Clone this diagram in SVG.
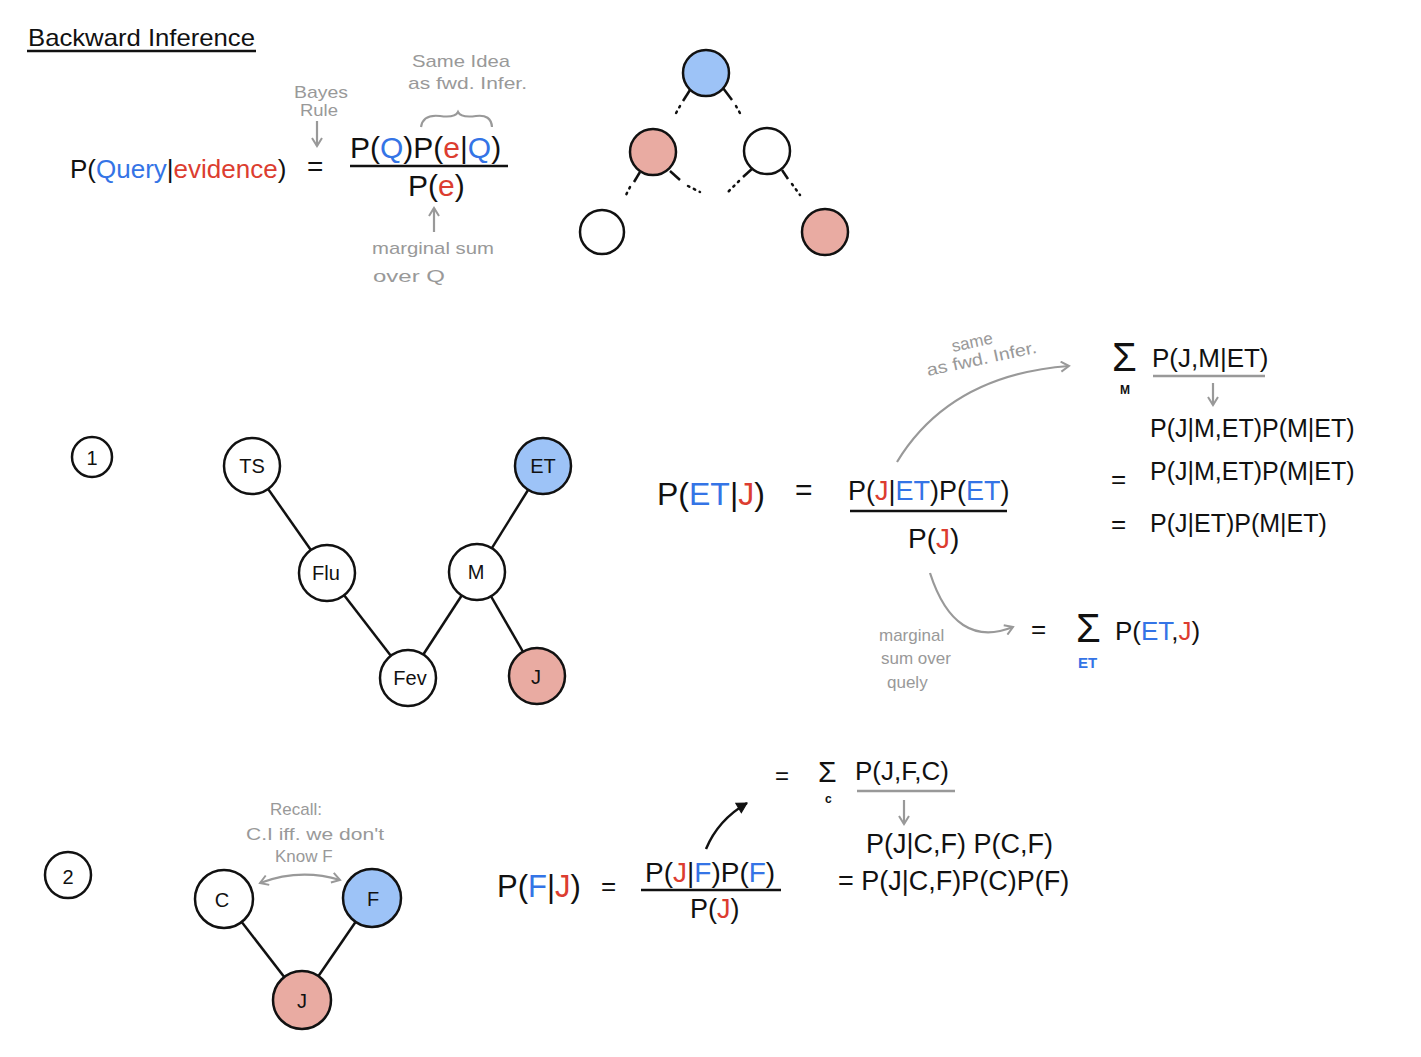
<svg xmlns="http://www.w3.org/2000/svg" width="1421" height="1057" viewBox="0 0 1421 1057">
<style>
text{font-family:"Liberation Sans","DejaVu Sans",sans-serif;fill:#111}
.b{fill:#3474e6}
.r{fill:#dc3d30}
.g{fill:#999;font-size:17px}
.nd{stroke:#111;stroke-width:2.5}
.wh{fill:#fff}
.bl{fill:#9dc3f7}
.rd{fill:#e9aba2}
.lbl{font-size:20px;text-anchor:middle}
.edge{stroke:#111;stroke-width:2.5;fill:none}
.dots{stroke:#111;stroke-width:2.5;stroke-dasharray:1.5 5;stroke-linecap:round;fill:none}
.garr{stroke:#999;stroke-width:2.2;fill:none}
.kline{stroke:#111;stroke-width:2.5}
.gline{stroke:#999;stroke-width:2.5}
</style>
<defs>
<marker id="ga" viewBox="0 0 12 12" refX="10" refY="6" markerWidth="12" markerHeight="12" markerUnits="userSpaceOnUse" orient="auto-start-reverse">
<path d="M2,1 L10,6 L2,11" fill="none" stroke="#999" stroke-width="2"/>
</marker>
<marker id="ka" viewBox="0 0 12 12" refX="10" refY="6" markerWidth="13" markerHeight="13" markerUnits="userSpaceOnUse" orient="auto">
<path d="M1,1 L10,6 L1,11 Z" fill="#111" stroke="#111" stroke-width="1"/>
</marker>
</defs>
<rect width="1421" height="1057" fill="#fff"/>

<!-- Title -->
<text x="28" y="46" font-size="24" textLength="227" lengthAdjust="spacingAndGlyphs">Backward Inference</text>
<line x1="27" y1="51" x2="256" y2="51" class="kline"/>

<!-- Top formula -->
<g id="top-formula">
<text x="70" y="178" font-size="26">P(<tspan class="b">Query</tspan>|<tspan class="r">evidence</tspan>)</text>
<text x="307" y="176" font-size="28">=</text>
<text x="350" y="158" font-size="30">P(<tspan class="b">Q</tspan>)P(<tspan class="r">e</tspan>|<tspan class="b">Q</tspan>)</text>
<line x1="350" y1="166" x2="508" y2="166" class="kline"/>
<text x="408" y="196" font-size="30">P(<tspan class="r">e</tspan>)</text>
<text x="294" y="98" class="g" textLength="54" lengthAdjust="spacingAndGlyphs">Bayes</text>
<text x="300" y="116" class="g" textLength="38" lengthAdjust="spacingAndGlyphs">Rule</text>
<line x1="317" y1="121" x2="317" y2="146" class="garr" marker-end="url(#ga)"/>
<text x="412" y="67" class="g" textLength="98" lengthAdjust="spacingAndGlyphs">Same Idea</text>
<text x="408" y="89" class="g" textLength="119" lengthAdjust="spacingAndGlyphs">as fwd. Infer.</text>
<path d="M421,127 Q423,114 440,116 Q455,118 458,112 Q461,118 476,116 Q491,114 492,127" class="garr"/>
<line x1="434" y1="232" x2="434" y2="208" class="garr" marker-end="url(#ga)"/>
<text x="372" y="254" class="g" textLength="122" lengthAdjust="spacingAndGlyphs">marginal sum</text>
<text x="373" y="282" class="g" textLength="72" lengthAdjust="spacingAndGlyphs">over  Q</text>
</g>

<!-- Top tree -->
<g id="top-tree-connectors">
<line x1="690" y1="90" x2="683" y2="101" class="edge"/>
<line x1="680" y1="106" x2="675" y2="115" class="dots"/>
<line x1="723" y1="88" x2="732" y2="100" class="edge"/>
<line x1="736" y1="106" x2="741" y2="115" class="dots"/>
<line x1="640" y1="172" x2="634" y2="182" class="edge"/>
<line x1="630" y1="187" x2="625" y2="197" class="dots"/>
<line x1="670" y1="171" x2="680" y2="180" class="edge"/>
<line x1="688" y1="186" x2="700" y2="192" class="dots"/>
<line x1="753" y1="168" x2="743" y2="177" class="edge"/>
<line x1="739" y1="181" x2="728" y2="192" class="dots"/>
<line x1="782" y1="170" x2="788" y2="179" class="edge"/>
<line x1="792" y1="184" x2="800" y2="195" class="dots"/>
</g>
<g id="tt-root"><circle cx="706" cy="73" r="23" class="nd bl"/></g>
<g id="tt-left"><circle cx="653" cy="152" r="23" class="nd rd"/></g>
<g id="tt-right"><circle cx="767" cy="151" r="23" class="nd wh"/></g>
<g id="tt-ll"><circle cx="602" cy="232" r="22" class="nd wh"/></g>
<g id="tt-rr"><circle cx="825" cy="232" r="23" class="nd rd"/></g>

<!-- Section 1 -->
<g id="num1"><circle cx="92" cy="457" r="20" class="nd wh"/><text x="92" y="465" class="lbl">1</text></g>
<g id="net1-connectors">
<line x1="252" y1="466" x2="327" y2="573" class="edge"/>
<line x1="327" y1="573" x2="408" y2="678" class="edge"/>
<line x1="408" y1="678" x2="477" y2="572" class="edge"/>
<line x1="477" y1="572" x2="543" y2="466" class="edge"/>
<line x1="477" y1="572" x2="537" y2="676" class="edge"/>
</g>
<g id="n-TS"><circle cx="252" cy="466" r="28" class="nd wh"/><text x="252" y="473" class="lbl">TS</text></g>
<g id="n-ET"><circle cx="543" cy="466" r="28" class="nd bl"/><text x="543" y="473" class="lbl">ET</text></g>
<g id="n-Flu"><circle cx="327" cy="573" r="28" class="nd wh"/><text x="326" y="580" class="lbl">Flu</text></g>
<g id="n-M"><circle cx="477" cy="572" r="28" class="nd wh"/><text x="476" y="579" class="lbl">M</text></g>
<g id="n-Fev"><circle cx="408" cy="678" r="28" class="nd wh"/><text x="410" y="685" class="lbl">Fev</text></g>
<g id="n-J"><circle cx="537" cy="676" r="28" class="nd rd"/><text x="536" y="684" class="lbl">J</text></g>

<g id="formula1">
<text x="657" y="505" font-size="32">P(<tspan class="b">ET</tspan>|<tspan class="r">J</tspan>)</text>
<text x="795" y="500" font-size="30">=</text>
<text x="848" y="500" font-size="27">P(<tspan class="r">J</tspan>|<tspan class="b">ET</tspan>)P(<tspan class="b">ET</tspan>)</text>
<line x1="850" y1="511" x2="1007" y2="511" class="kline"/>
<text x="908" y="548" font-size="28">P(<tspan class="r">J</tspan>)</text>
<text x="1112" y="371" font-size="40">Σ</text>
<text x="1120" y="394" font-size="12" font-weight="bold">M</text>
<text x="1152" y="367" font-size="26">P(J,M|ET)</text>
<line x1="1153" y1="376" x2="1265" y2="376" class="gline"/>
<line x1="1213" y1="383" x2="1213" y2="405" class="garr" marker-end="url(#ga)"/>
<text x="1150" y="437" font-size="25">P(J|M,ET)P(M|ET)</text>
<text x="1111" y="488" font-size="26">=</text>
<text x="1150" y="480" font-size="25">P(J|M,ET)P(M|ET)</text>
<text x="1111" y="533" font-size="26">=</text>
<text x="1150" y="532" font-size="25">P(J|ET)P(M|ET)</text>
<path d="M897,462 Q950,375 1069,366" class="garr" marker-end="url(#ga)"/>
<text x="953" y="352" class="g" font-size="15" transform="rotate(-12 953 352)">same</text>
<text x="928" y="376" class="g" font-size="15" transform="rotate(-12 928 376)" textLength="112" lengthAdjust="spacingAndGlyphs">as  fwd. Infer.</text>
<path d="M930,573 Q955,650 1013,627" class="garr" marker-end="url(#ga)"/>
<text x="879" y="641" class="g" font-size="15">marginal</text>
<text x="881" y="664" class="g" font-size="15">sum over</text>
<text x="887" y="688" class="g" font-size="15">quely</text>
<text x="1031" y="638" font-size="26">=</text>
<text x="1076" y="642" font-size="40">Σ</text>
<text x="1078" y="668" font-size="15" font-weight="bold" class="b">ET</text>
<text x="1115" y="640" font-size="26">P(<tspan class="b">ET</tspan>,<tspan class="r">J</tspan>)</text>
</g>

<!-- Section 2 -->
<g id="num2"><circle cx="68" cy="875" r="23" class="nd wh"/><text x="68" y="884" class="lbl" font-size="24">2</text></g>
<g id="net2-connectors">
<line x1="224" y1="899" x2="302" y2="1000" class="edge"/>
<line x1="372" y1="898" x2="302" y2="1000" class="edge"/>
<path d="M260,883 Q300,868 340,880" class="garr" marker-start="url(#ga)" marker-end="url(#ga)"/>
</g>
<g id="n2-C"><circle cx="224" cy="899" r="29" class="nd wh"/><text x="222" y="907" class="lbl" font-size="22">C</text></g>
<g id="n2-F"><circle cx="372" cy="898" r="29" class="nd bl"/><text x="373" y="906" class="lbl" font-size="22">F</text></g>
<g id="n2-J"><circle cx="302" cy="1000" r="29" class="nd rd"/><text x="302" y="1008" class="lbl" font-size="22">J</text></g>
<text x="270" y="815" class="g" font-size="16">Recall:</text>
<text x="246" y="840" class="g" font-size="16" textLength="138" lengthAdjust="spacingAndGlyphs">C.I  iff.  we don't</text>
<text x="275" y="862" class="g" font-size="16">Know F</text>

<g id="formula2">
<text x="497" y="897" font-size="31">P(<tspan class="b">F</tspan>|<tspan class="r">J</tspan>)</text>
<text x="601" y="895" font-size="26">=</text>
<text x="645" y="882" font-size="28">P(<tspan class="r">J</tspan>|<tspan class="b">F</tspan>)P(<tspan class="b">F</tspan>)</text>
<line x1="641" y1="890" x2="781" y2="890" class="kline"/>
<text x="690" y="918" font-size="27">P(<tspan class="r">J</tspan>)</text>
<path d="M706,849 Q718,820 747,803" class="edge" stroke-width="2.5" marker-end="url(#ka)"/>
<text x="775" y="784" font-size="24">=</text>
<text x="818" y="782" font-size="30">Σ</text>
<text x="825" y="803" font-size="12" font-weight="bold">c</text>
<text x="855" y="780" font-size="26">P(J,F,C)</text>
<line x1="857" y1="791" x2="955" y2="791" class="gline"/>
<line x1="904" y1="800" x2="904" y2="824" class="garr" marker-end="url(#ga)"/>
<text x="866" y="853" font-size="27">P(J|C,F) P(C,F)</text>
<text x="838" y="890" font-size="27">= P(J|C,F)P(C)P(F)</text>
</g>
</svg>
